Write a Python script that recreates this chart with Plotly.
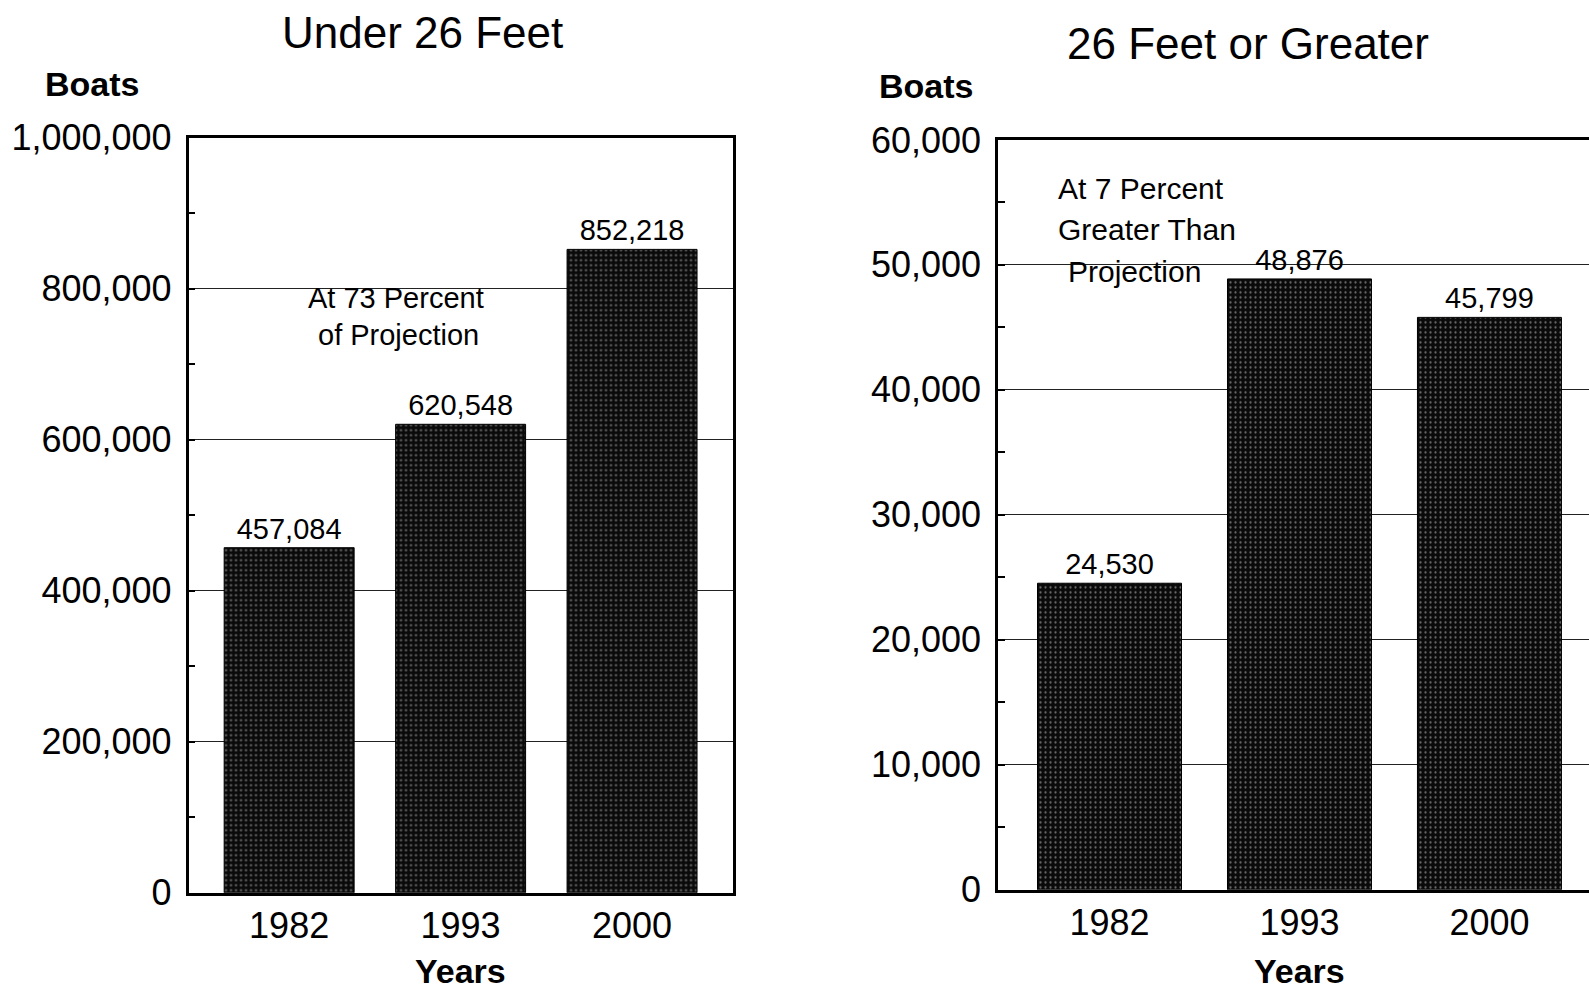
import plotly.graph_objects as go

years = ["1982", "1993", "2000"]
under_26 = [457084, 620548, 852218]
over_26 = [24530, 48876, 45799]
left_ticks = [0, 200000, 400000, 600000, 800000, 1000000]
right_ticks = [0, 10000, 20000, 30000, 40000, 50000, 60000]

FONT = "Liberation Sans, Arial, sans-serif"
W, H = 1589, 989

def px_x(v):
    return v / W

def px_y(v):
    return 1 - v / H

bar_style = dict(
    color="#111111",
    line=dict(color="#000000", width=1),
    pattern=dict(shape=".", fgcolor="#6a6a6a", bgcolor="#0a0a0a", size=5, solidity=0.16, fillmode="replace"),
)

fig = go.Figure()
fig.add_trace(go.Bar(
    x=years, y=under_26, xaxis="x", yaxis="y",
    marker=bar_style,
    text=[f"{v:,}" for v in under_26], textposition="outside",
    textfont=dict(family=FONT, size=29, color="#000"),
    cliponaxis=False, showlegend=False,
))
fig.add_trace(go.Bar(
    x=years, y=over_26, xaxis="x2", yaxis="y2",
    marker=bar_style,
    text=[f"{v:,}" for v in over_26], textposition="outside",
    textfont=dict(family=FONT, size=29, color="#000"),
    cliponaxis=False, showlegend=False,
))

common_x = dict(
    type="category", showline=True, linecolor="#000", linewidth=2.5, mirror=True,
    ticks="", showgrid=False, tickfont=dict(family=FONT, size=36, color="#000"),
    ticklabelstandoff=-1, automargin=False,
)
common_y = dict(
    showline=True, linecolor="#000", linewidth=2.5,
    ticks="inside", ticklen=7, tickcolor="#000", tickwidth=1.5,
    showgrid=True, gridcolor="#222", gridwidth=1,
    zeroline=False, tickfont=dict(family=FONT, size=36, color="#000"),
    ticklabelstandoff=7, tickformat=",d", automargin=False,
)

fig.update_layout(
    width=W, height=H, autosize=False,
    margin=dict(l=0, r=0, t=0, b=0, pad=0, autoexpand=False),
    paper_bgcolor="white", plot_bgcolor="white",
    bargap=0.242,
    xaxis=dict(common_x, domain=[px_x(188.5), px_x(732.7)], range=[-0.587, 2.587], anchor="y"),
    yaxis=dict(common_y, domain=[px_y(892.8), px_y(137.8)], range=[0, 1000000],
               tickvals=left_ticks, mirror=True,
               minor=dict(dtick=100000, ticks="inside", ticklen=7, tickcolor="#000", tickwidth=1.5, showgrid=False),
               anchor="x"),
    xaxis2=dict(common_x, domain=[px_x(998), 1.0], range=[-0.587, 2.524], anchor="y2"),
    yaxis2=dict(common_y, domain=[px_y(889.8), px_y(139.9)], range=[0, 60000],
                tickvals=right_ticks, mirror=False,
                minor=dict(dtick=5000, ticks="inside", ticklen=7, tickcolor="#000", tickwidth=1.5, showgrid=False),
                anchor="x2"),
)

ann = []
def add_text(text, x, y, size, bold=False, xanchor="center", xref="paper"):
    ann.append(dict(
        text=f"<b>{text}</b>" if bold else text,
        x=x, y=px_y(y), xref=xref, yref="paper",
        xanchor=xanchor, yanchor="middle", showarrow=False,
        font=dict(family=FONT, size=size, color="#000"),
    ))

add_text("Under 26 Feet", px_x(422), 32.5, 44)
add_text("26 Feet or Greater", px_x(1248), 43.6, 44)
add_text("Boats", px_x(42.6), 84, 34, bold=True, xanchor="left")
add_text("Boats", px_x(876.6), 86, 34, bold=True, xanchor="left")
add_text("Years", 1, 971, 34, bold=True, xref="x")
add_text("Years", 1, 971, 34, bold=True, xref="x2")
add_text("At 73 Percent", px_x(396), 298, 29)
add_text("of Projection", px_x(398), 335.4, 29)
add_text("At 7 Percent", px_x(1056), 188.5, 30, xanchor="left")
add_text("Greater Than", px_x(1056), 230, 30, xanchor="left")
add_text("Projection", px_x(1066), 271.6, 30, xanchor="left")
fig.update_layout(annotations=ann)

fig.write_html(
    "out.html",
    config={"displayModeBar": False},
    post_script="document.body.style.margin='0';document.body.style.overflow='hidden';",
)
